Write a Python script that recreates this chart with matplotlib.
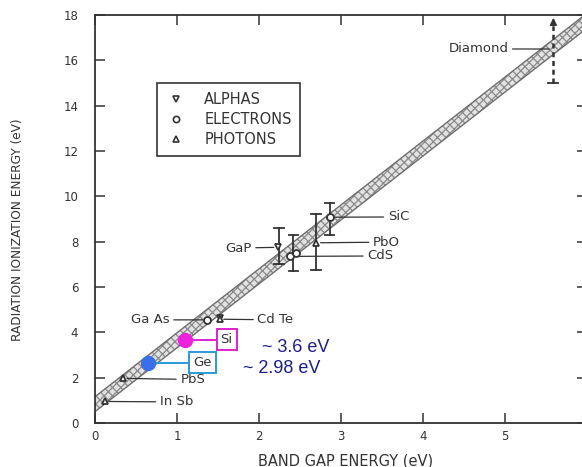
import numpy as np
import matplotlib
matplotlib.use("Agg")
import matplotlib.pyplot as plt
from matplotlib.lines import Line2D

# ---------------- data ----------------
band_slope = 2.82
band_intercept = 0.83
band_halfwidth = 0.33

alpha_names = ['GaP', 'CdTe']
alpha_x = [2.23, 1.52]
alpha_y = [7.75, 4.65]

electron_names = ['GaAs', 'CdS', 'CdS', 'SiC']
electron_x = [1.37, 2.38, 2.45, 2.86]
electron_y = [4.55, 7.35, 7.50, 9.08]

photon_names = ['InSb', 'PbS', 'CdTe', 'PbO']
photon_x = [0.12, 0.34, 1.52, 2.70]
photon_y = [0.95, 1.97, 4.60, 7.95]

err_x = [2.24, 2.42, 2.70, 2.86]
err_lo = [7.0, 6.7, 6.75, 8.3]
err_hi = [8.6, 8.3, 9.2, 9.7]

diamond_x = 5.59
diamond_lo = 15.0
diamond_hi = 18.0
diamond_y = 16.5

highlight_names = ['Si', 'Ge']
highlight_x = [1.10, 0.65]
highlight_y = [3.68, 2.65]
highlight_values = ['~ 3.6 eV', '~ 2.98 eV']

x_ticks = [0, 1, 2, 3, 4, 5, 6]
y_ticks = [0, 2, 4, 6, 8, 10, 12, 14, 16, 18]

# ---------------- figure ----------------
fig = plt.figure(figsize=(5.82, 4.67), dpi=100)
ax = fig.add_axes([95/582, 44/467, (587-95)/582, 408/467])
ax.set_xlim(0, 6)
ax.set_ylim(0, 18)

ink = '#333333'
for s in ax.spines.values():
    s.set_color(ink)
    s.set_linewidth(1.3)

ax.set_xticks(x_ticks)
ax.set_yticks(y_ticks)
ax.tick_params(direction='in', length=7, width=1.1, color=ink, top=True, right=True,
               labelsize=8.5, labelcolor=ink)
ax.tick_params(axis='y', pad=12)
ax.tick_params(axis='x', pad=5)

# band
xb = np.linspace(-0.2, 6.5, 50)
yc = band_slope * xb + band_intercept
plt.rcParams['hatch.linewidth'] = 0.9
ax.fill_between(xb, yc - band_halfwidth, yc + band_halfwidth, facecolor='#e2e2e2',
                edgecolor='#8a8a8a', hatch='xxxx', linewidth=0, zorder=1)
ax.plot(xb, yc - band_halfwidth, color='#6e6e6e', lw=1.0, zorder=2)
ax.plot(xb, yc + band_halfwidth, color='#6e6e6e', lw=1.0, zorder=2)

# error bars
for x, lo, hi in zip(err_x, err_lo, err_hi):
    ax.plot([x, x], [lo, hi], color=ink, lw=1.3, zorder=3)
    ax.plot([x - 0.06, x + 0.06], [lo, lo], color=ink, lw=1.3, zorder=3)
    ax.plot([x - 0.06, x + 0.06], [hi, hi], color=ink, lw=1.3, zorder=3)

# diamond
ax.plot([diamond_x, diamond_x], [diamond_lo, diamond_hi - 0.5], color=ink, lw=1.8,
        ls=(0, (2, 1.5)), zorder=3)
ax.plot([diamond_x - 0.06, diamond_x + 0.06], [diamond_lo, diamond_lo], color=ink, lw=1.3)
ax.annotate('', xy=(diamond_x, diamond_hi), xytext=(diamond_x, diamond_hi - 0.6),
            arrowprops=dict(arrowstyle='-|>', color=ink, lw=1.2, mutation_scale=10))

mk = dict(mfc='white', mec=ink, mew=1.3, ls='none', ms=5, zorder=4)
ax.plot(alpha_x, alpha_y, marker='v', **mk)
ax.plot(electron_x, electron_y, marker='o', **mk)
ax.plot(photon_x, photon_y, marker='^', **mk)

lab = dict(fontsize=9.5, color=ink, va='center')
line = dict(arrowstyle='-', color=ink, lw=0.9, shrinkA=1, shrinkB=3)
# labels
ax.annotate('In Sb', xy=(photon_x[0], photon_y[0]), xytext=(0.79, 0.93), arrowprops=line, ha='left', **lab)
ax.annotate('PbS', xy=(photon_x[1], photon_y[1]), xytext=(1.04, 1.92), arrowprops=line, ha='left', **lab)
ax.annotate('Ga As', xy=(electron_x[0], electron_y[0]), xytext=(0.91, 4.55), arrowprops=line, ha='right', **lab)
ax.annotate('Cd Te', xy=(photon_x[2], 4.58), xytext=(1.98, 4.55), arrowprops=line, ha='left', **lab)
ax.annotate('GaP', xy=(alpha_x[0], alpha_y[0]), xytext=(1.91, 7.72), arrowprops=line, ha='right', **lab)
ax.annotate('CdS', xy=(electron_x[1], electron_y[1]), xytext=(3.32, 7.37), arrowprops=line, ha='left', **lab)
ax.annotate('PbO', xy=(photon_x[3], photon_y[3]), xytext=(3.39, 7.98), arrowprops=line, ha='left', **lab)
ax.annotate('SiC', xy=(electron_x[3], electron_y[3]), xytext=(3.57, 9.09), arrowprops=line, ha='left', **lab)
ax.annotate('Diamond', xy=(diamond_x, diamond_y), xytext=(5.04, diamond_y), arrowprops=line, ha='right', **lab)

# highlighted Si / Ge
hl_colors = ['#ee22dd', '#3a6fe8']
box_colors = ['#dd22cc', '#2a9ad6']
box_x = [1.53, 1.20]
for name, x, y, c, bc, bx in zip(highlight_names, highlight_x, highlight_y, hl_colors, box_colors, box_x):
    ax.plot([x, bx], [y, y], color=bc, lw=1.4, zorder=5)
    ax.plot([x], [y], marker='o', ms=10, color=c, mec=c, zorder=6)
    ax.text(bx, y, name, fontsize=9.5, color=ink, ha='left', va='center', zorder=6,
            bbox=dict(boxstyle='square,pad=0.3', fc='white', ec=bc, lw=1.4))

ax.text(2.04, 3.33, highlight_values[0], fontsize=13, color='#1c1c8c', ha='left', va='center',
        family='Liberation Sans')
ax.text(1.80, 2.42, highlight_values[1], fontsize=13, color='#1c1c8c', ha='left', va='center',
        family='Liberation Sans')

# legend
handles = [Line2D([], [], marker='v', mfc='white', mec=ink, mew=1.2, ls='none', ms=4.5),
           Line2D([], [], marker='o', mfc='white', mec=ink, mew=1.2, ls='none', ms=4.5),
           Line2D([], [], marker='^', mfc='white', mec=ink, mew=1.2, ls='none', ms=4.5)]
leg = ax.legend(handles, ['ALPHAS', 'ELECTRONS', 'PHOTONS'], loc='upper left',
                bbox_to_anchor=(0.127, 0.833), fancybox=False, framealpha=1,
                edgecolor=ink, fontsize=10.5, handlelength=1.3, handletextpad=1.3,
                labelspacing=0.35, borderpad=0.6, borderaxespad=0)
leg.get_frame().set_linewidth(1.2)
for t in leg.get_texts():
    t.set_color(ink)

fig.text(18/582, 1 - 230/467, 'RADIATION IONIZATION ENERGY (eV)', rotation=90,
         ha='center', va='center', fontsize=8.7, color=ink)
fig.text(346/582, 1 - 461/467, 'BAND GAP ENERGY (eV)', ha='center', va='center',
         fontsize=10.5, color=ink)

fig.savefig('out.png', dpi=100)
